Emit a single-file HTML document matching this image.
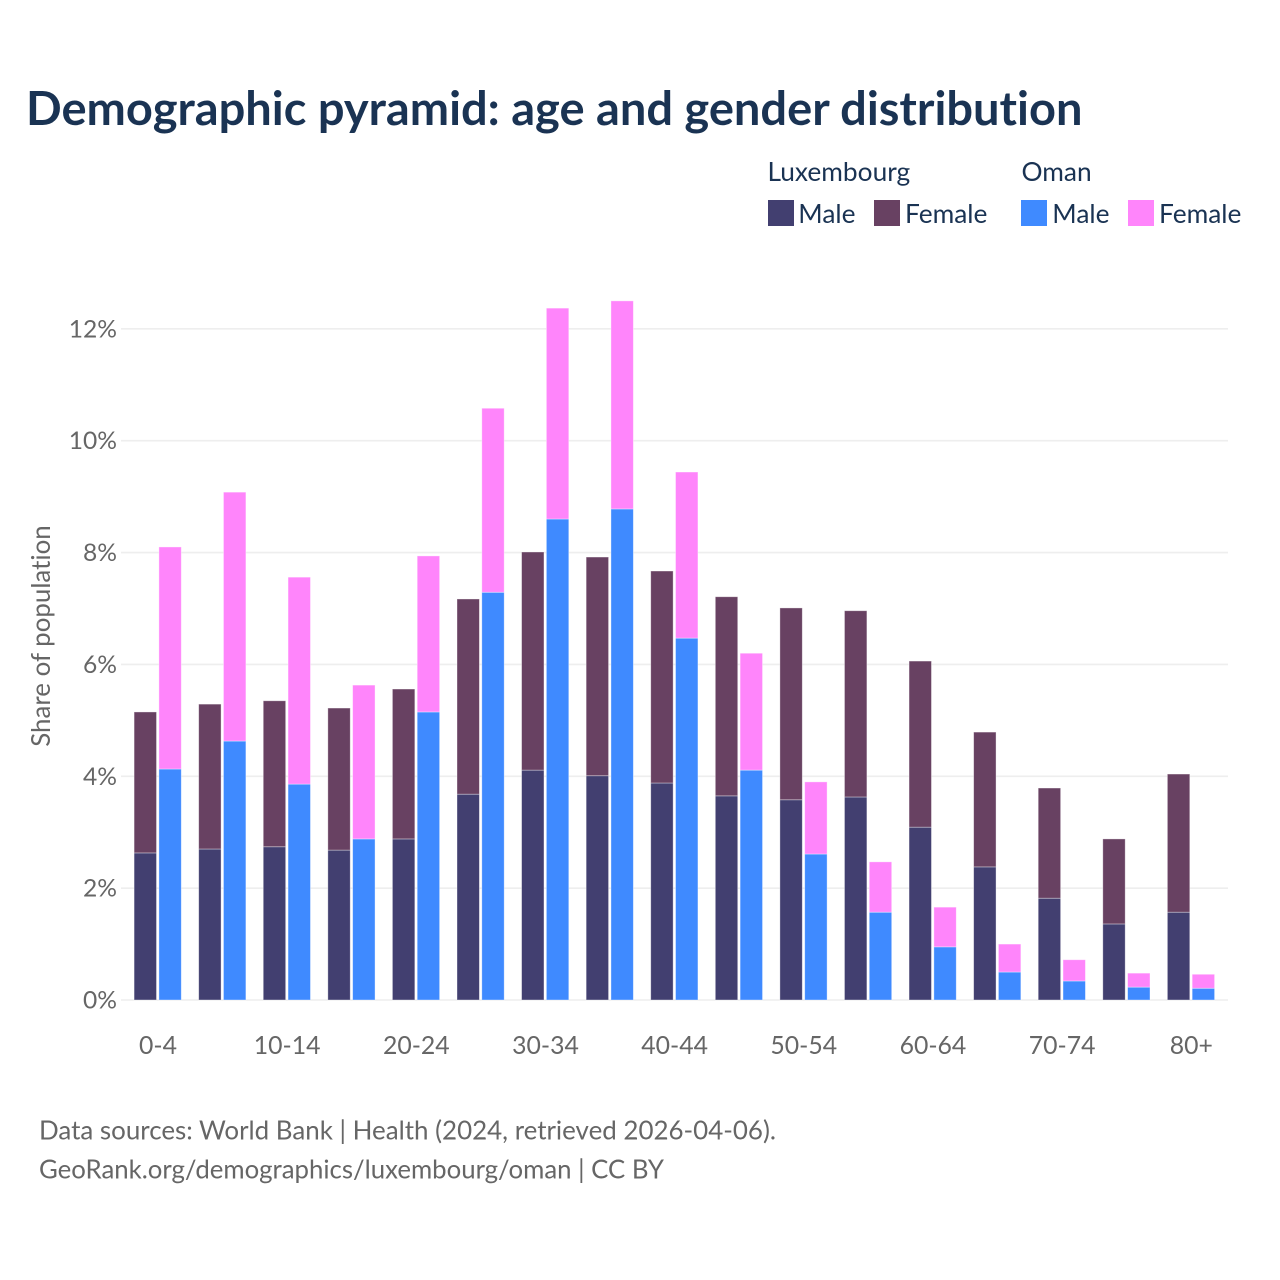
<!DOCTYPE html>
<html lang="en">
<head>
<meta charset="utf-8">
<title>Demographic pyramid</title>
<style>
html,body{margin:0;padding:0;background:#fff;width:1280px;height:1280px;overflow:hidden}
svg{display:block}
text{font-family:"Lato","Carlito","Liberation Sans",sans-serif;font-variant-ligatures:none;font-feature-settings:"liga" 0,"clig" 0}
</style>
</head>
<body>
<svg id="chart" xmlns="http://www.w3.org/2000/svg" width="1280" height="1280" viewBox="0 0 1280 1280">
  <rect x="0" y="0" width="1280" height="1280" fill="#ffffff"/>
  <text x="26" y="125" font-size="47" font-weight="700" fill="#1a3353">Demographic pyramid: age and gender distribution</text>

  <g font-size="26.3" fill="#1a3353">
    <text x="767.5" y="181">Luxembourg</text>
    <text x="1021.5" y="181">Oman</text>
    <rect x="768" y="200" width="26" height="26" fill="#423f70"/>
    <text x="798.3" y="223">Male</text>
    <rect x="874" y="200" width="26" height="26" fill="#684162"/>
    <text x="905" y="223">Female</text>
    <rect x="1021" y="200" width="26" height="26" fill="#3f8aff"/>
    <text x="1052.3" y="223">Male</text>
    <rect x="1128" y="200" width="26" height="26" fill="#ff85fb"/>
    <text x="1159" y="223">Female</text>
  </g>

  <g id="grid"></g>
  <g id="bars"></g>
  <g id="yticks"></g>
  <g id="xticks"></g>

  <text transform="translate(50,636) rotate(-90)" text-anchor="middle" font-size="25.9" fill="#666666">Share of population</text>

  <text x="39" y="1139.5" font-size="25.9" fill="#666666" textLength="737" lengthAdjust="spacingAndGlyphs">Data sources: World Bank | Health (2024, retrieved 2026-04-06).</text>
  <text x="39" y="1178.5" font-size="25.9" fill="#666666" textLength="625" lengthAdjust="spacingAndGlyphs">GeoRank.org/demographics/luxembourg/oman | CC BY</text>
</svg>
<script>
const categories = ['0-4','5-9','10-14','15-19','20-24','25-29','30-34','35-39','40-44','45-49','50-54','55-59','60-64','65-69','70-74','75-79','80+'];
const xTickLabels = ['0-4','10-14','20-24','30-34','40-44','50-54','60-64','70-74','80+'];
const yTicks = [0,2,4,6,8,10,12];
const luxMale = [2.63,2.70,2.74,2.68,2.88,3.68,4.11,4.01,3.88,3.65,3.58,3.63,3.09,2.38,1.82,1.36,1.57];
const luxFemale = [2.52,2.59,2.61,2.54,2.68,3.49,3.90,3.91,3.79,3.56,3.43,3.33,2.97,2.41,1.97,1.52,2.47];
const omanMale = [4.13,4.63,3.86,2.88,5.15,7.29,8.60,8.78,6.47,4.11,2.61,1.57,0.95,0.50,0.34,0.23,0.21];
const omanFemale = [3.97,4.45,3.70,2.75,2.79,3.29,3.77,3.72,2.97,2.09,1.29,0.90,0.71,0.50,0.38,0.25,0.25];

const SVG_NS = 'http://www.w3.org/2000/svg';
const y0 = 1000;
const pxPerUnit = 55.93;
const xStart = 157.7;
const xStep = 64.58;
const barW = 22.4;
const yScale = function (v) { return y0 - v * pxPerUnit; };
const xScale = function (i) { return xStart + i * xStep; };

function make(tag, attrs) {
  const el = document.createElementNS(SVG_NS, tag);
  for (const k in attrs) el.setAttribute(k, attrs[k]);
  return el;
}

const grid = document.getElementById('grid');
const yLabels = document.getElementById('yticks');
yTicks.forEach(function (t) {
  const line = make('line', {x1: 121, x2: 1228, y1: yScale(t), y2: yScale(t), stroke: '#eeeeee', 'stroke-width': 1.6});
  
  
  grid.appendChild(line);
  const label = make('text', {x: 117, y: yScale(t) + 8.5, 'text-anchor': 'end', 'font-size': 24.6, fill: '#666666'});
  
  
  label.textContent = t + '%';
  yLabels.appendChild(label);
});

const xLabels = document.getElementById('xticks');
categories.forEach(function (c, i) {
  if (xTickLabels.indexOf(c) < 0) return;
  const label = make('text', {x: xScale(i) + 0.3, y: 1054, 'text-anchor': 'middle', 'font-size': 24.8, fill: '#666666'});
  
  
  label.textContent = c;
  xLabels.appendChild(label);
});

const bars = document.getElementById('bars');
function addSegment(x, start, value, fill) {
  const top = yScale(start + value);
  const rect = make('rect', {x: x, y: top, width: barW, height: yScale(start) - top, fill: fill, stroke: '#ffffff', 'stroke-opacity': 0.45, 'stroke-width': 0.8});
  
  
  bars.appendChild(rect);
}
categories.forEach(function (c, i) {
  const c0 = xScale(i);
  const xLux = c0 - 23.6;
  const xOman = c0 + 1.2;
  addSegment(xLux, 0, luxMale[i], '#423f70');
  addSegment(xLux, luxMale[i], luxFemale[i], '#684162');
  addSegment(xOman, 0, omanMale[i], '#3f8aff');
  addSegment(xOman, omanMale[i], omanFemale[i], '#ff85fb');
});
</script>
</body>
</html>
